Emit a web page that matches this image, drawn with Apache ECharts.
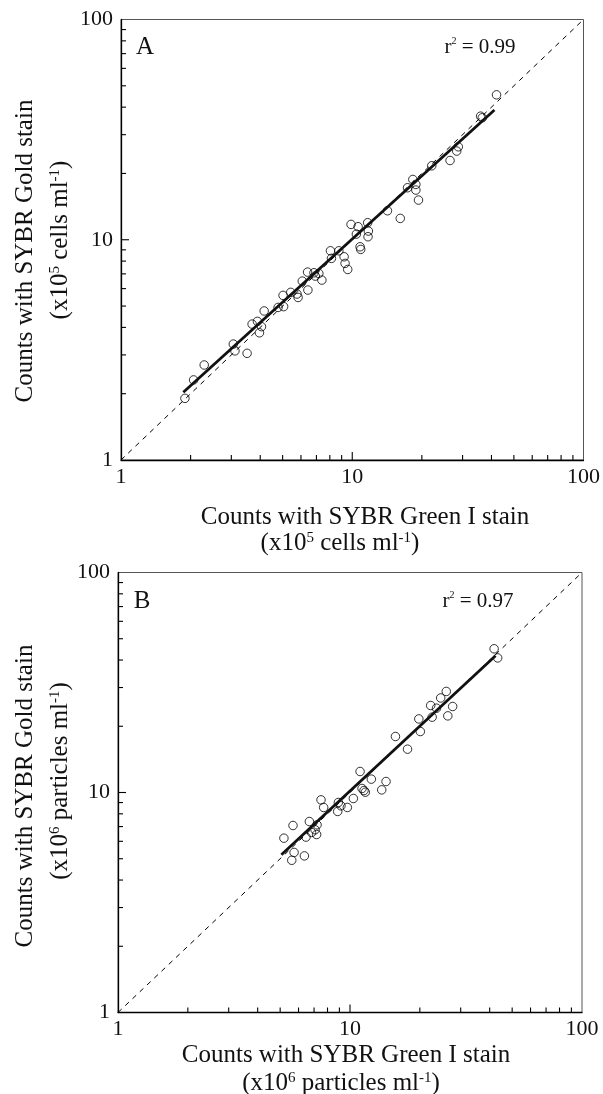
<!DOCTYPE html>
<html>
<head>
<meta charset="utf-8">
<script src="https://cdn.jsdelivr.net/npm/echarts@6/dist/echarts.min.js"></script>
<style>html,body{margin:0;padding:0;background:#fff;}#c{width:603px;height:1094px;}</style>
</head>
<body>
<div id="c"></div>
<script>
// Panel A data (x10^5 cells/ml)
const xA = [1.89,2.06,2.29,3.06,3.11,3.51,3.69,3.89,3.97,4.05,4.16,4.78,5.02,5.05,5.42,5.77,5.83,6.08,6.41,6.43,6.83,6.92,7.17,7.39,8.05,8.13,8.75,9.22,9.31,9.56,9.88,10.42,10.6,10.81,10.88,11.66,11.74,11.7,14.2,16.13,17.34,18.28,18.84,18.84,19.34,22.07,26.48,28.3,28.75,35.9,36.5,42.07];
const yA = [1.905,2.31,2.70,3.36,3.13,3.05,4.14,4.26,3.78,4.03,4.75,4.93,5.59,4.97,5.77,5.67,5.47,6.49,7.13,5.91,7.08,6.84,7.03,6.56,8.91,8.23,8.91,8.37,7.81,7.33,11.74,10.61,11.46,9.29,9.04,11.95,10.95,10.32,13.54,12.5,17.22,18.78,17.83,16.81,15.14,21.67,22.9,25.27,26.43,36.4,35.8,45.5];
const fitAx = [1.86, 41.2];
const fitAy = [2.03, 38.8];
// Panel B data (x10^6 particles/ml)
const xB = [5.19,5.68,5.74,5.61,6.36,6.46,6.68,6.83,7.07,7.18,7.21,7.50,7.70,8.85,8.91,9.14,9.74,10.34,11.05,11.27,11.49,11.64,12.36,13.7,14.3,15.7,17.7,19.8,20.1,22.27,22.6,23.6,24.6,26.0,26.4,27.7,41.8,43.3];
const yB = [6.20,7.08,5.34,4.92,5.15,6.27,7.38,6.58,6.77,6.44,7.13,9.26,8.55,8.20,9.01,8.70,8.55,9.39,12.46,10.43,10.21,10.03,11.5,10.28,11.22,17.97,15.74,21.6,18.93,24.86,22.0,24.17,26.9,28.8,22.3,24.6,45.0,40.9];
const fitBx = [5.06, 42.4];
const fitBy = [5.21, 41.8];
// 1:1 line and axis range
const oneToOne = [1, 100];
const tickLabels = [1, 10, 100];
const majorTicks = [10];
const minorTicks = [2,3,4,5,6,7,8,9,20,30,40,50,60,70,80,90];
const r2Labels = ['0.99', '0.97'];
const panelLabels = ['A', 'B'];

const FONT = 'Liberation Serif';
const chart = echarts.init(document.getElementById('c'));

function zip(a, b) { return a.map((v, i) => [v, b[i]]); }

function axis(type, gridIndex) {
  return {
    type: 'log', logBase: 10, gridIndex: gridIndex,
    min: oneToOne[0], max: oneToOne[1],
    axisLine: { show: true, onZero: false, lineStyle: { color: '#000', width: 1.3 } },
    axisTick: { show: false },
    splitLine: { show: false },
    axisLabel: {
      show: true, color: '#111', fontFamily: FONT, fontSize: 22,
      margin: type === 'x' ? 6 : 8,
      formatter: function (v) { return tickLabels.indexOf(v) >= 0 ? String(v) : ''; }
    }
  };
}

const grids = [
  { left: 121, top: 19.5, width: 463.5, height: 440.5, show: true, borderColor: '#555', borderWidth: 1 },
  { left: 118, top: 572.5, width: 464, height: 440, show: true, borderColor: '#555', borderWidth: 1 }
];

function tickSeries(gi, dir) {
  const vals = majorTicks.concat(minorTicks);
  const data = vals.map(v => dir === 'x' ? [v, oneToOne[0]] : [oneToOne[0], v]);
  return {
    type: 'custom', xAxisIndex: gi, yAxisIndex: gi, data: data, clip: false, silent: true, z: 5,
    renderItem: function (params, api) {
      const p = api.coord([api.value(0), api.value(1)]);
      const v = dir === 'x' ? api.value(0) : api.value(1);
      const len = majorTicks.indexOf(v) >= 0 ? 8 : 5;
      const shape = dir === 'x'
        ? { x1: p[0], y1: p[1], x2: p[0], y2: p[1] - len }
        : { x1: p[0], y1: p[1], x2: p[0] + len, y2: p[1] };
      return { type: 'line', shape: shape, style: { stroke: '#000', lineWidth: 1.1 } };
    }
  };
}

function seriesFor(gi, xs, ys, fx, fy) {
  return [
    { type: 'line', xAxisIndex: gi, yAxisIndex: gi, data: zip(oneToOne, oneToOne), symbol: 'none',
      lineStyle: { color: '#000', width: 1, type: [5, 5] }, silent: true, z: 1 },
    { type: 'scatter', xAxisIndex: gi, yAxisIndex: gi, data: zip(xs, ys), symbol: 'circle', symbolSize: 8.5,
      itemStyle: { color: 'rgba(255,255,255,0)', borderColor: '#000', borderWidth: 1 }, z: 2 },
    { type: 'line', xAxisIndex: gi, yAxisIndex: gi, data: zip(fx, fy), symbol: 'none',
      lineStyle: { color: '#111', width: 2.8 }, z: 3 },
    tickSeries(gi, 'x'),
    tickSeries(gi, 'y')
  ];
}

const rich = {
  a: { fontFamily: FONT, fontSize: 25, color: '#111' },
  s: { fontFamily: FONT, fontSize: 15, color: '#111', verticalAlign: 'top', padding: [0, 0, 8, 0] }
};
const richSmall = {
  a: { fontFamily: FONT, fontSize: 21, color: '#111' },
  s: { fontFamily: FONT, fontSize: 10, color: '#111', verticalAlign: 'top', padding: [0, 0, 8, 0] }
};

function txt(x, y, text, r, rot, align) {
  return { type: 'text', x: x, y: y, rotation: rot || 0,
    style: { text: text, rich: r, fill: '#111', fontFamily: FONT, fontSize: 25, align: align || 'center', verticalAlign: 'middle' } };
}

const graphics = [
  txt(365, 517, '{a|Counts with SYBR Green I stain}', rich),
  txt(340, 543, '{a|(x10}{s|5}{a| cells ml}{s|-1}{a|)}', rich),
  txt(346, 1055, '{a|Counts with SYBR Green I stain}', rich),
  txt(341, 1083, '{a|(x10}{s|6}{a| particles ml}{s|-1}{a|)}', rich),
  txt(25, 251, '{a|Counts with SYBR Gold stain}', rich, Math.PI / 2),
  txt(60, 240, '{a|(x10}{s|5}{a| cells ml}{s|-1}{a|)}', rich, Math.PI / 2),
  txt(25, 796, '{a|Counts with SYBR Gold stain}', rich, Math.PI / 2),
  txt(60, 781, '{a|(x10}{s|6}{a| particles ml}{s|-1}{a|)}', rich, Math.PI / 2),
  txt(145, 47, '{a|' + panelLabels[0] + '}', rich),
  txt(142, 601, '{a|' + panelLabels[1] + '}', rich),
  txt(480, 47, '{a|r}{s|2}{a| = ' + r2Labels[0] + '}', richSmall),
  txt(478, 601, '{a|r}{s|2}{a| = ' + r2Labels[1] + '}', richSmall)
];

chart.setOption({
  backgroundColor: '#fff',
  animation: false,
  grid: grids,
  xAxis: [axis('x', 0), axis('x', 1)],
  yAxis: [axis('y', 0), axis('y', 1)],
  series: seriesFor(0, xA, yA, fitAx, fitAy).concat(seriesFor(1, xB, yB, fitBx, fitBy)),
  graphic: graphics
});
</script>
</body>
</html>
